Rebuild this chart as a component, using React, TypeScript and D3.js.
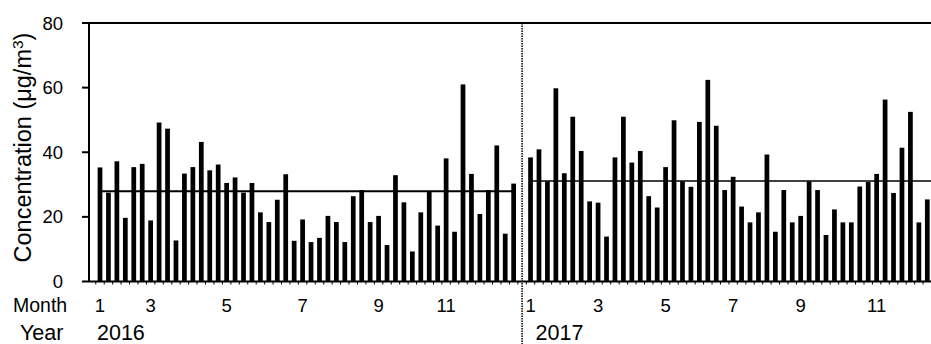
import * as d3 from 'd3';

// ── Data ──────────────────────────────────────────────────────────────────────
const VALUES_2016 = [
  35.3, 27.5, 37.2, 19.7, 35.4, 36.4, 18.9, 49.2, 47.3, 12.7,
  33.4, 35.4, 43.2, 34.4, 36.2, 30.5, 32.2, 27.5, 30.5, 21.4,
  18.4, 25.3, 33.2, 12.6, 19.2, 12.2, 13.5, 20.3, 18.4, 12.2,
  26.4, 28.3, 18.4, 20.3, 11.3, 32.9, 24.5, 9.3, 21.4, 27.9,
  17.3, 38.1, 15.4, 61.0, 33.3, 20.9, 28.3, 42.1, 14.8, 30.3,
];
const VALUES_2017 = [
  38.4, 40.9, 31.0, 59.8, 33.5, 51.0, 40.4, 24.8, 24.4, 13.9,
  38.4, 51.0, 36.8, 40.4, 26.4, 22.9, 35.4, 49.9, 31.0, 29.3,
  49.4, 62.4, 48.2, 28.3, 32.4, 23.2, 18.3, 21.4, 39.3, 15.4,
  28.3, 18.3, 20.3, 31.0, 28.3, 14.4, 22.3, 18.3, 18.3, 29.4,
  30.8, 33.3, 56.3, 27.4, 41.4, 52.5, 18.3, 25.4,
];
const MEAN_2016 = 27.9;
const MEAN_2017 = 31.1;

const MONTH_LABELS = ['1', '3', '5', '7', '9', '11'];
const MONTH_IDX_2016 = [0, 6, 15, 24, 33, 41];
const MONTH_IDX_2017 = [0, 8, 16, 24, 32, 41];
const YEARS = ['2016', '2017'];
const Y_TICKS = [0, 20, 40, 60, 80];

// ── Layout ────────────────────────────────────────────────────────────────────
const W = 931;
const H = 344;
const AX_X = 89;
const Y0 = 281.5;
const Y80 = 23;
const FONT = '"Liberation Sans", Arial, sans-serif';

// one empty slot between the two years
const GAP = 1;
const N = VALUES_2016.length + GAP + VALUES_2017.length;
const idx2017 = (i: number) => VALUES_2016.length + GAP + i;

export default function App() {
  const first = 100;
  const last = 927.3;
  const step = (last - first) / (N - 1);

  const x = d3.scaleBand<number>()
    .domain(d3.range(N))
    .range([first - step / 2, last + step / 2])
    .paddingInner(0.44)
    .paddingOuter(0.22);
  const bw = x.bandwidth();
  const cx = (i: number) => (x(i) ?? 0) + bw / 2;

  const y = d3.scaleLinear().domain([0, 80]).range([Y0, Y80]);

  const bars = [
    ...VALUES_2016.map((v, i) => ({ i, v })),
    ...VALUES_2017.map((v, i) => ({ i: idx2017(i), v })),
  ];

  const divX = (cx(VALUES_2016.length - 1) + cx(idx2017(0))) / 2;

  return (
    <svg
      width={W}
      height={H}
      viewBox={`0 0 ${W} ${H}`}
      style={{ position: 'fixed', left: 0, top: 0, background: '#fff' }}
      fontFamily={FONT}
    >
      {/* Bars */}
      {bars.map(d => (
        <rect key={d.i} x={x(d.i)} y={y(d.v)} width={bw} height={Y0 - y(d.v)} fill="#000" />
      ))}

      {/* Annual means */}
      <line x1={cx(0)} x2={cx(VALUES_2016.length - 1)} y1={y(MEAN_2016)} y2={y(MEAN_2016)}
        stroke="#000" strokeWidth={2} />
      <line x1={cx(idx2017(0))} x2={W} y1={y(MEAN_2017)} y2={y(MEAN_2017)}
        stroke="#000" strokeWidth={1.6} />

      {/* Frame */}
      <line x1={AX_X} x2={W} y1={Y80} y2={Y80} stroke="#000" strokeWidth={2} />
      <line x1={AX_X} x2={AX_X} y1={Y80} y2={Y0} stroke="#000" strokeWidth={2} />
      <line x1={AX_X} x2={W} y1={Y0} y2={Y0} stroke="#000" strokeWidth={2} />

      {/* Category ticks below x-axis */}
      {d3.range(N + 1).map(k => {
        const xx = (x(0) ?? 0) - (step - bw) / 2 + k * step;
        return xx <= W ? (
          <line key={k} x1={xx} x2={xx} y1={Y0} y2={Y0 + 3} stroke="#000" strokeWidth={1} />
        ) : null;
      })}

      {/* Y ticks */}
      {Y_TICKS.map(t => (
        <g key={t}>
          <line x1={AX_X - 7} x2={AX_X} y1={y(t)} y2={y(t)} stroke="#000" strokeWidth={2} />
          <text x={63} y={y(t)} textAnchor="end" dominantBaseline="central"
            fontSize={18.5} fill="#000">{t}</text>
        </g>
      ))}

      {/* Year divider */}
      <line x1={divX} x2={divX} y1={Y80} y2={H} stroke="#000" strokeWidth={1.5}
        strokeDasharray="1.5,1" />

      {/* Y label */}
      <text transform="translate(31,147.5) rotate(-90)" textAnchor="middle"
        fontSize={23.5} fill="#000">
        Concentration (μg/m<tspan dy={-8} fontSize={15.5}>3</tspan><tspan dy={8}>)</tspan>
      </text>

      {/* Month labels */}
      <text x={13} y={312} fontSize={19.5} fill="#000">Month</text>
      {MONTH_IDX_2016.map((m, k) => (
        <text key={'a' + k} x={cx(m)} y={312} textAnchor="middle" fontSize={18.5} fill="#000">
          {MONTH_LABELS[k]}
        </text>
      ))}
      {MONTH_IDX_2017.map((m, k) => (
        <text key={'b' + k} x={cx(idx2017(m))} y={312} textAnchor="middle" fontSize={18.5} fill="#000">
          {MONTH_LABELS[k]}
        </text>
      ))}

      {/* Year labels */}
      <text x={20} y={340} fontSize={21.5} fill="#000">Year</text>
      <text x={cx(0) - 3} y={340} fontSize={21.5} fill="#000">{YEARS[0]}</text>
      <text x={cx(idx2017(0)) + 5} y={340} fontSize={21.5} fill="#000">{YEARS[1]}</text>
    </svg>
  );
}
